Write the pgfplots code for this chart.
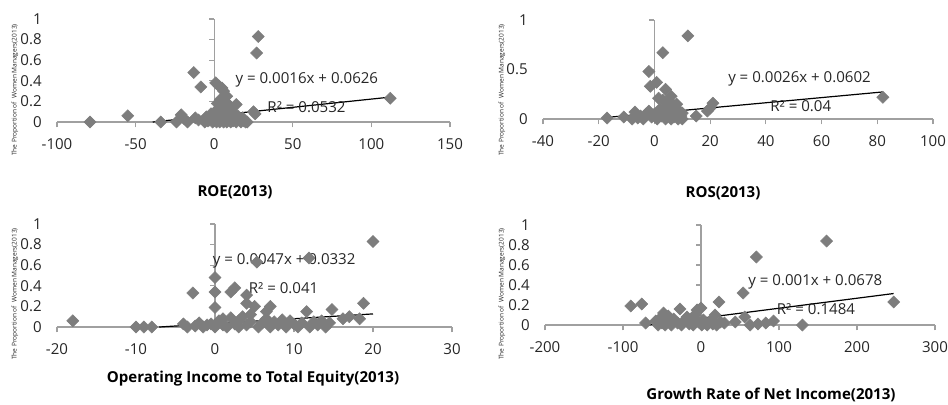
\documentclass[border=0pt]{standalone}
\usepackage{pgfplots}
\pgfplotsset{compat=1.18}
\usepackage{fontspec}
\setmainfont{Open Sans}

\definecolor{markgray}{RGB}{125,125,125}
\definecolor{axisgray}{RGB}{160,160,160}

\tikzset{
  trend/.style={black, line width=0.9pt},
  zeroline/.style={axisgray, line width=0.9pt},
  eq/.style={anchor=west, font=\fontsize{11.3}{13}\selectfont, text=black!85, inner sep=0pt},
  ttl/.style={font=\bfseries\fontsize{11.3}{13}\selectfont},
  ylb/.style={rotate=90, font=\fontsize{4.9}{5.5}\selectfont, text=black!85},
}

\pgfplotsset{
  panel/.style={
    scale only axis,
    ymin=0, ymax=1,
    axis x line*=bottom,
    axis y line*=left,
    y axis line style={draw=none},
    x axis line style={axisgray, line width=0.9pt, -},
    xtick style={axisgray, line width=0.9pt},
    ytick style={draw=none},
    tick align=outside,
    major tick length=4pt,
    ticklabel style={font=\fontsize{11.3}{13}\selectfont, text=black!85},
    /pgf/number format/assume math mode=true,
    yticklabel style={anchor=east, xshift=-4pt},
    xticklabel style={yshift=-5pt},
    clip=false,
  },
  pts/.style={only marks, mark=square*, mark size=3.2pt,
    mark options={rotate=45, fill=markgray, draw=markgray}},
}

\newcommand\ylab{The Proportion of \ Women Managers(2013)}
% small left-pointing ticks on the vertical line at x = 0
\newcommand\zeroticks[1]{\pgfplotsinvokeforeach{#1}{%
  \draw[zeroline] (axis cs:0,##1) -- ([xshift=-4pt]axis cs:0,##1);}}

\begin{document}
\begin{tikzpicture}
\useasboundingbox (0,0) rectangle (711pt,-303pt);

% ---------------- ROE ----------------
\begin{axis}[panel, at={(42.75pt,-91.5pt)}, anchor=south west,
  width=294.75pt, height=77.25pt,
  xmin=-100, xmax=150, xtick={-100,-50,0,50,100,150},
  ytick={0,0.2,0.4,0.6,0.8,1}]
\addplot[zeroline] coordinates {(0,0) (0,1)};
\zeroticks{0,0.2,0.4,0.6,0.8,1}
\addplot[pts] table {
x y
-79 0.0
-55 0.06
-34 0.0
-24 0.0
-21 0.07
-19 0.03
-17 0.0
-13 0.48
-12 0.04
-10 0.02
-8.5 0.34
-6 0.0
-5 0.05
-4 0.01
-3 0.02
-2 0.08
-1 0.0
0 0.03
0.5 0.1
1 0.38
1.5 0.0
2 0.18
2 0.05
3 0.35
3 0.12
3.5 0.0
4 0.22
4 0.07
5 0.33
5 0.02
5.5 0.15
6 0.3
6 0.0
6.5 0.09
7 0.2
7 0.04
7.5 0.12
8 0.25
8 0.0
8.5 0.06
9 0.17
9.5 0.02
10 0.1
10.5 0.0
11 0.14
11 0.05
12 0.01
12.5 0.08
13 0.03
14 0.17
14 0.0
15 0.06
16 0.02
17 0.0
18 0.04
19 0.01
20 0.0
21 0.0
25 0.1
26 0.08
27 0.67
28 0.83
112 0.23
};
\addplot[trend] coordinates {(-39.1,0) (112,0.2418)};
\node[eq] at (axis cs:13.4,0.41) {y = 0.0016x + 0.0626};
\node[eq] at (axis cs:33.7,0.145) {R² = 0.0532};
\end{axis}

% ---------------- ROS ----------------
\begin{axis}[panel, at={(407.25pt,-89.25pt)}, anchor=south west,
  width=292.5pt, height=74.25pt,
  xmin=-40, xmax=100, xtick={-40,-20,0,20,40,60,80,100},
  ytick={0,0.5,1}]
\addplot[zeroline] coordinates {(0,0) (0,1)};
\zeroticks{0,0.5,1}
\addplot[pts] table {
x y
-17 0.01
-11 0.02
-8 0.0
-7 0.07
-6 0.01
-5 0.03
-4 0.0
-3 0.05
-2 0.48
-2 0.08
-1.5 0.33
-1 0.02
0 0.05
0.8 0.37
1 0.0
1.5 0.21
2 0.1
2.5 0.03
3 0.67
3 0.19
3.5 0.07
4 0.3
4 0.0
4.5 0.13
5 0.04
5.5 0.18
6 0.23
6 0.0
6.5 0.09
7 0.12
7 0.02
7.5 0.05
8 0.15
8.5 0.0
9 0.08
9.5 0.03
10 0.0
10 0.06
12 0.84
15 0.03
19 0.08
20 0.11
21 0.16
82 0.22
};
\addplot[trend] coordinates {(-17,0.016) (82,0.2734)};
\node[eq] at (axis cs:26.4,0.41) {y = 0.0026x + 0.0602};
\node[eq] at (axis cs:41.5,0.13) {R² = 0.04};
\end{axis}

% ---------------- Operating income to total equity ----------------
\begin{axis}[panel, at={(42.75pt,-245.25pt)}, anchor=south west,
  width=296.25pt, height=77.25pt,
  xmin=-20, xmax=30, xtick={-20,-10,0,10,20,30},
  ytick={0,0.2,0.4,0.6,0.8,1}]
\addplot[zeroline] coordinates {(0,0) (0,1)};
\zeroticks{0,0.2,0.4,0.6,0.8,1}
\addplot[pts] table {
x y
-18 0.06
-10 0.0
-9 0.0
-8 0.0
-4 0.03
-3.5 0.0
-2.8 0.33
-2.5 0.01
-2 0.04
-1.5 0.0
-1 0.02
-0.5 0.03
0 0.48
0 0.34
0 0.19
0 0.0
0.5 0.06
1 0.02
1 0.08
1.5 0.0
2 0.34
2 0.09
2.5 0.38
2.5 0.03
3 0.06
3 0.0
3.5 0.1
4 0.31
4 0.23
4 0.02
4.5 0.12
4.5 0.05
5 0.2
5.3 0.63
5.5 0.0
6 0.04
6.5 0.15
6.5 0.08
7 0.2
7 0.0
7.5 0.05
8 0.02
8.5 0.07
9 0.0
9.5 0.06
10 0.03
10.5 0.0
11 0.04
11.6 0.15
11.9 0.67
12 0.0
12.5 0.05
13 0.02
13.5 0.06
14 0.0
14.8 0.17
14.5 0.04
16.2 0.08
17 0.1
18.3 0.08
18.8 0.23
20 0.83
};
\addplot[trend] coordinates {(-7.06,0) (20,0.1272)};
\node[eq] at (axis cs:-0.3,0.64) {y = 0.0047x + 0.0332};
\node[eq] at (axis cs:4.25,0.38) {R² = 0.041};
\end{axis}

% ---------------- Growth rate of net income ----------------
\begin{axis}[panel, at={(408.75pt,-243.75pt)}, anchor=south west,
  width=292.5pt, height=75pt,
  xmin=-200, xmax=300, xtick={-200,-100,0,100,200,300},
  ytick={0,0.2,0.4,0.6,0.8,1}]
\addplot[zeroline] coordinates {(0,0) (0,1)};
\zeroticks{0,0.2,0.4,0.6,0.8,1}
\addplot[pts] table {
x y
-90 0.19
-76 0.21
-71 0.02
-58 0.04
-55 0.0
-52 0.07
-50 0.02
-48 0.12
-46 0.0
-44 0.05
-42 0.09
-40 0.03
-38 0.0
-35 0.06
-30 0.02
-27 0.16
-25 0.0
-22 0.04
-18 0.08
-15 0.01
-12 0.06
-10 0.0
-8 0.1
-5 0.15
-3 0.03
0 0.17
1 0.0
3 0.05
5 0.02
8 0.0
12 0.04
15 0.01
18 0.1
20 0.0
23 0.23
25 0.03
30 0.02
44 0.03
54 0.32
56 0.08
63 0.0
71 0.68
73 0.01
83 0.02
93 0.04
130 0.0
161 0.84
247 0.23
};
\addplot[trend] coordinates {(-67.8,0) (247,0.3148)};
\node[eq] at (axis cs:60.4,0.43) {y = 0.001x + 0.0678};
\node[eq] at (axis cs:97,0.157) {R² = 0.1484};
\end{axis}

% axis titles
\node[ttl] at (176.25pt,-144pt) {ROE(2013)};
\node[ttl] at (542.25pt,-144.75pt) {ROS(2013)};
\node[ttl] at (189.75pt,-284.25pt) {Operating Income to Total Equity(2013)};
\node[ttl] at (578.25pt,-296.25pt) {Growth Rate of Net Income(2013)};
\node[ylb] at (11.25pt,-67.5pt) {\ylab};
\node[ylb] at (376.5pt,-67.5pt) {\ylab};
\node[ylb] at (11.25pt,-220.5pt) {\ylab};
\node[ylb] at (376.5pt,-220.5pt) {\ylab};
\end{tikzpicture}
\end{document}
